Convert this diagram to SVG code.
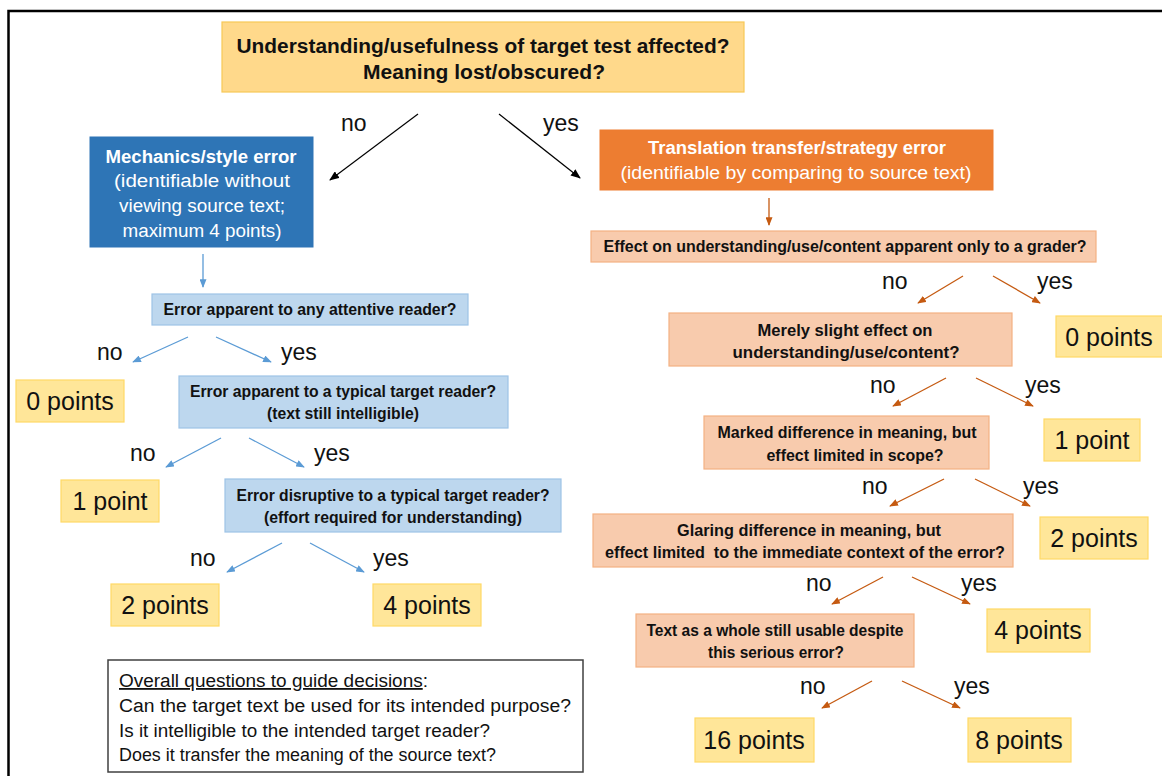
<svg xmlns="http://www.w3.org/2000/svg" width="1162" height="776" viewBox="0 0 1162 776">
<defs>
<style>
text{font-family:"Liberation Sans",Arial,sans-serif;fill:#111;}
.b{font-weight:bold;}
.c{text-anchor:middle;}
.q{font-size:16px;font-weight:bold;text-anchor:middle;}
.pts{font-size:25px;text-anchor:middle;}
.lab{font-size:23px;}
.ov{font-size:18px;}
.top{fill:#FFD98B;stroke:#F7C857;stroke-width:1.2;}
.blue{fill:#2E75B6;stroke:#2E75B6;}
.orange{fill:#ED7D31;stroke:#ED7D31;}
.lb{fill:#BDD7EE;stroke:#9DC3E6;stroke-width:1.2;}
.pe{fill:#F8CBAD;stroke:#F4B183;stroke-width:1.2;}
.yl{fill:#FFE699;stroke:#FFD966;stroke-width:1.2;}
.w{fill:#fff;}
.ka{stroke:#000;stroke-width:1.2;fill:none;marker-end:url(#mk);}
.ba{stroke:#5B9BD5;stroke-width:1.3;fill:none;marker-end:url(#mb);}
.oa{stroke:#C55A11;stroke-width:1.3;fill:none;marker-end:url(#mo);}
</style>
<marker id="mk" viewBox="0 0 10 8" refX="9" refY="4" markerWidth="10" markerHeight="8" markerUnits="userSpaceOnUse" orient="auto"><path d="M0,0 L10,4 L0,8 z" fill="#000"/></marker>
<marker id="mb" viewBox="0 0 10 8" refX="9" refY="4" markerWidth="9" markerHeight="7" markerUnits="userSpaceOnUse" orient="auto"><path d="M0,0 L10,4 L0,8 z" fill="#5B9BD5"/></marker>
<marker id="mo" viewBox="0 0 10 8" refX="9" refY="4" markerWidth="9" markerHeight="7" markerUnits="userSpaceOnUse" orient="auto"><path d="M0,0 L10,4 L0,8 z" fill="#C55A11"/></marker>
</defs>
<rect width="1162" height="776" fill="#fff"/>
<path d="M8.5,776 V11 H1162" fill="none" stroke="#000" stroke-width="2.5"/>

<g id="connectors">
<line class="ka" x1="418" y1="114" x2="330" y2="180"/>
<line class="ka" x1="499" y1="114" x2="580" y2="178"/>
<line class="ba" x1="203" y1="254" x2="203" y2="287"/>
<line class="ba" x1="188" y1="337" x2="133" y2="362"/>
<line class="ba" x1="216" y1="337" x2="271" y2="362"/>
<line class="ba" x1="221" y1="438" x2="166" y2="467"/>
<line class="ba" x1="249" y1="438" x2="304" y2="467"/>
<line class="ba" x1="282" y1="543" x2="227" y2="572"/>
<line class="ba" x1="310" y1="543" x2="364" y2="572"/>
<line class="oa" x1="769" y1="198" x2="769" y2="225"/>
<line class="oa" x1="963" y1="276" x2="918" y2="303"/>
<line class="oa" x1="993" y1="276" x2="1040" y2="303"/>
<line class="oa" x1="946" y1="378" x2="893" y2="406"/>
<line class="oa" x1="976" y1="378" x2="1033" y2="406"/>
<line class="oa" x1="944" y1="479" x2="890" y2="506"/>
<line class="oa" x1="975" y1="479" x2="1030" y2="506"/>
<line class="oa" x1="883" y1="577" x2="832" y2="604"/>
<line class="oa" x1="912" y1="577" x2="970" y2="604"/>
<line class="oa" x1="872" y1="681" x2="822" y2="708"/>
<line class="oa" x1="902" y1="681" x2="960" y2="708"/>
<text class="lab" x="341" y="131">no</text>
<text class="lab" x="543" y="131">yes</text>
<text class="lab" x="97" y="360">no</text>
<text class="lab" x="281" y="360">yes</text>
<text class="lab" x="130" y="461">no</text>
<text class="lab" x="314" y="461">yes</text>
<text class="lab" x="190" y="566">no</text>
<text class="lab" x="373" y="566">yes</text>
<text class="lab" x="882" y="289">no</text>
<text class="lab" x="1037" y="289">yes</text>
<text class="lab" x="870" y="393">no</text>
<text class="lab" x="1025" y="393">yes</text>
<text class="lab" x="862" y="494">no</text>
<text class="lab" x="1023" y="494">yes</text>
<text class="lab" x="806" y="591">no</text>
<text class="lab" x="961" y="591">yes</text>
<text class="lab" x="800" y="694">no</text>
<text class="lab" x="954" y="694">yes</text>
</g>

<g id="n-top">
<rect class="top" x="222" y="22" width="522" height="70"/>
<text class="b c" x="483" y="53" font-size="19.5" textLength="493" lengthAdjust="spacingAndGlyphs">Understanding/usefulness of target test affected?</text>
<text class="b c" x="484" y="79" font-size="19.5" textLength="242" lengthAdjust="spacingAndGlyphs">Meaning lost/obscured?</text>
</g>

<g id="n-mech">
<rect class="blue" x="90" y="137" width="223" height="110"/>
<text class="b c w" x="201" y="163" font-size="18" textLength="191" lengthAdjust="spacingAndGlyphs">Mechanics/style error</text>
<text class="c w" x="202" y="187" font-size="18" textLength="176" lengthAdjust="spacingAndGlyphs">(identifiable without</text>
<text class="c w" x="202" y="212" font-size="18" textLength="166" lengthAdjust="spacingAndGlyphs">viewing source text;</text>
<text class="c w" x="202" y="237" font-size="18" textLength="159" lengthAdjust="spacingAndGlyphs">maximum 4 points)</text>
</g>

<g id="n-trans">
<rect class="orange" x="600" y="130" width="393" height="60"/>
<text class="b c w" x="797" y="154" font-size="18" textLength="298" lengthAdjust="spacingAndGlyphs">Translation transfer/strategy error</text>
<text class="c w" x="796" y="179" font-size="18" textLength="351" lengthAdjust="spacingAndGlyphs">(identifiable by comparing to source text)</text>
</g>

<g id="n-l1">
<rect class="lb" x="152" y="294" width="316" height="31"/>
<text class="q" x="310" y="315" textLength="293" lengthAdjust="spacingAndGlyphs">Error apparent to any attentive reader?</text>
</g>
<g id="n-l0pts">
<rect class="yl" x="16" y="380" width="108" height="42"/>
<text class="pts" x="70" y="410">0 points</text>
</g>
<g id="n-l2">
<rect class="lb" x="179" y="376" width="329" height="52"/>
<text class="q" x="343" y="397" textLength="306" lengthAdjust="spacingAndGlyphs">Error apparent to a typical target reader?</text>
<text class="q" x="343" y="419" textLength="152" lengthAdjust="spacingAndGlyphs">(text still intelligible)</text>
</g>
<g id="n-l1pt">
<rect class="yl" x="61" y="480" width="98" height="42"/>
<text class="pts" x="110" y="510">1 point</text>
</g>
<g id="n-l3">
<rect class="lb" x="225" y="479" width="336" height="53"/>
<text class="q" x="393" y="501" textLength="313" lengthAdjust="spacingAndGlyphs">Error disruptive to a typical target reader?</text>
<text class="q" x="393" y="523" textLength="258" lengthAdjust="spacingAndGlyphs">(effort required for understanding)</text>
</g>
<g id="n-l2pts">
<rect class="yl" x="111" y="584" width="108" height="42"/>
<text class="pts" x="165" y="614">2 points</text>
</g>
<g id="n-l4pts">
<rect class="yl" x="373" y="584" width="108" height="42"/>
<text class="pts" x="427" y="614">4 points</text>
</g>

<g id="n-r1">
<rect class="pe" x="591" y="231" width="505" height="31"/>
<text class="q" x="845" y="252" textLength="483" lengthAdjust="spacingAndGlyphs">Effect on understanding/use/content apparent only to a grader?</text>
</g>
<g id="n-r0pts">
<rect class="yl" x="1056" y="316" width="110" height="41"/>
<text class="pts" x="1109" y="346">0 points</text>
</g>
<g id="n-r2">
<rect class="pe" x="669" y="313" width="343" height="53"/>
<text class="q" x="845" y="336" textLength="175" lengthAdjust="spacingAndGlyphs">Merely slight effect on</text>
<text class="q" x="846" y="358" textLength="227" lengthAdjust="spacingAndGlyphs">understanding/use/content?</text>
</g>
<g id="n-r1pt">
<rect class="yl" x="1044" y="419" width="96" height="42"/>
<text class="pts" x="1092" y="449">1 point</text>
</g>
<g id="n-r3">
<rect class="pe" x="704" y="416" width="285" height="53"/>
<text class="q" x="847" y="438" textLength="259" lengthAdjust="spacingAndGlyphs">Marked difference in meaning, but</text>
<text class="q" x="855" y="461" textLength="177" lengthAdjust="spacingAndGlyphs">effect limited in scope?</text>
</g>
<g id="n-r2pts">
<rect class="yl" x="1040" y="517" width="108" height="42"/>
<text class="pts" x="1094" y="547">2 points</text>
</g>
<g id="n-r4">
<rect class="pe" x="593" y="514" width="420" height="53"/>
<text class="q" x="809" y="536" textLength="264" lengthAdjust="spacingAndGlyphs">Glaring difference in meaning, but</text>
<text class="q" x="805" y="558" textLength="400" lengthAdjust="spacingAndGlyphs" xml:space="preserve">effect limited  to the immediate context of the error?</text>
</g>
<g id="n-r4pts">
<rect class="yl" x="987" y="609" width="103" height="43"/>
<text class="pts" x="1038" y="639">4 points</text>
</g>
<g id="n-r5">
<rect class="pe" x="636" y="614" width="278" height="53"/>
<text class="q" x="775" y="636" textLength="257" lengthAdjust="spacingAndGlyphs">Text as a whole still usable despite</text>
<text class="q" x="776" y="658" textLength="136" lengthAdjust="spacingAndGlyphs">this serious error?</text>
</g>
<g id="n-r16pts">
<rect class="yl" x="695" y="718" width="119" height="44"/>
<text class="pts" x="754" y="749">16 points</text>
</g>
<g id="n-r8pts">
<rect class="yl" x="968" y="718" width="103" height="44"/>
<text class="pts" x="1019" y="749">8 points</text>
</g>

<g id="n-overall">
<rect x="108" y="660" width="475" height="112" fill="#fff" stroke="#404040" stroke-width="1.5"/>
<text class="ov" x="119" y="687" textLength="309" lengthAdjust="spacingAndGlyphs"><tspan text-decoration="underline">Overall questions to guide decisions</tspan>:</text>
<text class="ov" x="119" y="712" textLength="452" lengthAdjust="spacingAndGlyphs">Can the target text be used for its intended purpose?</text>
<text class="ov" x="119" y="737" textLength="371" lengthAdjust="spacingAndGlyphs">Is it intelligible to the intended target reader?</text>
<text class="ov" x="119" y="761" textLength="377" lengthAdjust="spacingAndGlyphs">Does it transfer the meaning of the source text?</text>
</g>
</svg>
